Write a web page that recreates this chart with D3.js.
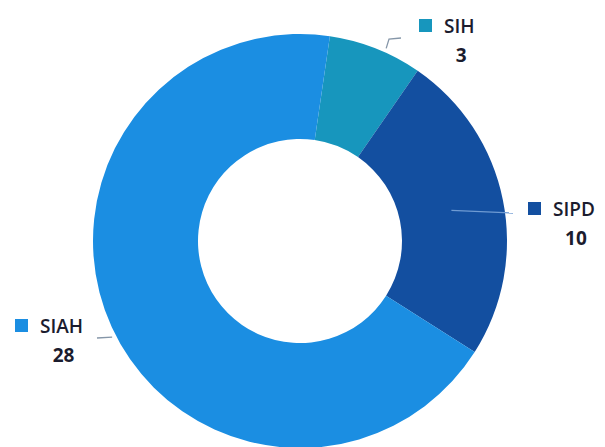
<!DOCTYPE html>
<meta charset="utf-8">
<style>
body { margin: 0; background: #fff; }
text { font-family: "Open Sans", sans-serif; fill: #1b1c2e; }
.name { font-size: 19px; font-weight: 600; }
.value { font-size: 19px; font-weight: bold; }
</style>
<svg width="605" height="447"></svg>
<script src="https://d3js.org/d3.v7.min.js"></script>
<script>

var categories = ["SIH", "SIPD", "SIAH"]
var values = [3, 10, 28]
var colors = ["#1796bd", "#134fa0", "#1b8ee2"]

// where each label block sits and where its leader line ends
var labelPos = {
  SIH:  {x: 444, y: 33,  lineEnd: [401, 38], lineFrom: "edge", t: 0.6},
  SIPD: {x: 553, y: 216, lineEnd: [513, 213], lineFrom: "centroid"},
  SIAH: {x: 40,  y: 333, lineEnd: [97, 338], lineFrom: "edge", t: 0.49}
}

var svg = d3.select("svg"),
    cx = 300, cy = 241,
    outerR = 207, innerR = 102,
    start = 8.3 * Math.PI / 180

var data = categories.map(function(c, i) { return {name: c, value: values[i], color: colors[i]} })

var pie = d3.pie()
    .sort(null)
    .value(function(d) { return d.value })
    .startAngle(start)
    .endAngle(start + 2 * Math.PI)

var arc = d3.arc().innerRadius(innerR).outerRadius(outerR)

var g = svg.append("g").attr("transform", "translate(" + cx + "," + cy + ")")

var arcs = pie(data)

g.selectAll("path.slice")
  .data(arcs)
  .enter().append("path")
  .attr("class", "slice")
  .attr("d", arc)
  .style("fill", function(d) { return d.data.color })

// leader lines
arcs.forEach(function(a) {
  var lp = labelPos[a.data.name]
  var p0
  if (lp.lineFrom === "centroid") {
    p0 = arc.centroid(a)
  } else {
    var ang = a.startAngle + (a.endAngle - a.startAngle) * lp.t
    p0 = d3.pointRadial(ang, outerR + 4)
  }
  var end = [lp.lineEnd[0] - cx, lp.lineEnd[1] - cy]
  var pts = [p0]
  if (a.data.name === "SIH") pts.push([end[0] - 12, end[1] + 1])
  pts.push(end)
  g.append("path")
    .attr("d", d3.line()(pts))
    .style("fill", "none")
    .style("stroke", a.data.name === "SIPD" ? "#6f9bd3" : "#8596a8")
    .style("stroke-width", 1.3)
})

// data labels: key square, name, value
arcs.forEach(function(a) {
  var lp = labelPos[a.data.name]
  var lab = svg.append("g")
  var name = lab.append("text")
    .attr("class", "name")
    .attr("x", lp.x)
    .attr("y", lp.y)
    .text(a.data.name)
  var w = name.node().getComputedTextLength()
  lab.append("rect")
    .attr("x", lp.x - 25)
    .attr("y", lp.y - 14)
    .attr("width", 13)
    .attr("height", 13)
    .style("fill", a.data.color)
  lab.append("text")
    .attr("class", "value")
    .attr("x", lp.x + w / 2 + 2)
    .attr("y", lp.y + 29)
    .attr("text-anchor", "middle")
    .text(a.data.value)
})

</script>
</html>
